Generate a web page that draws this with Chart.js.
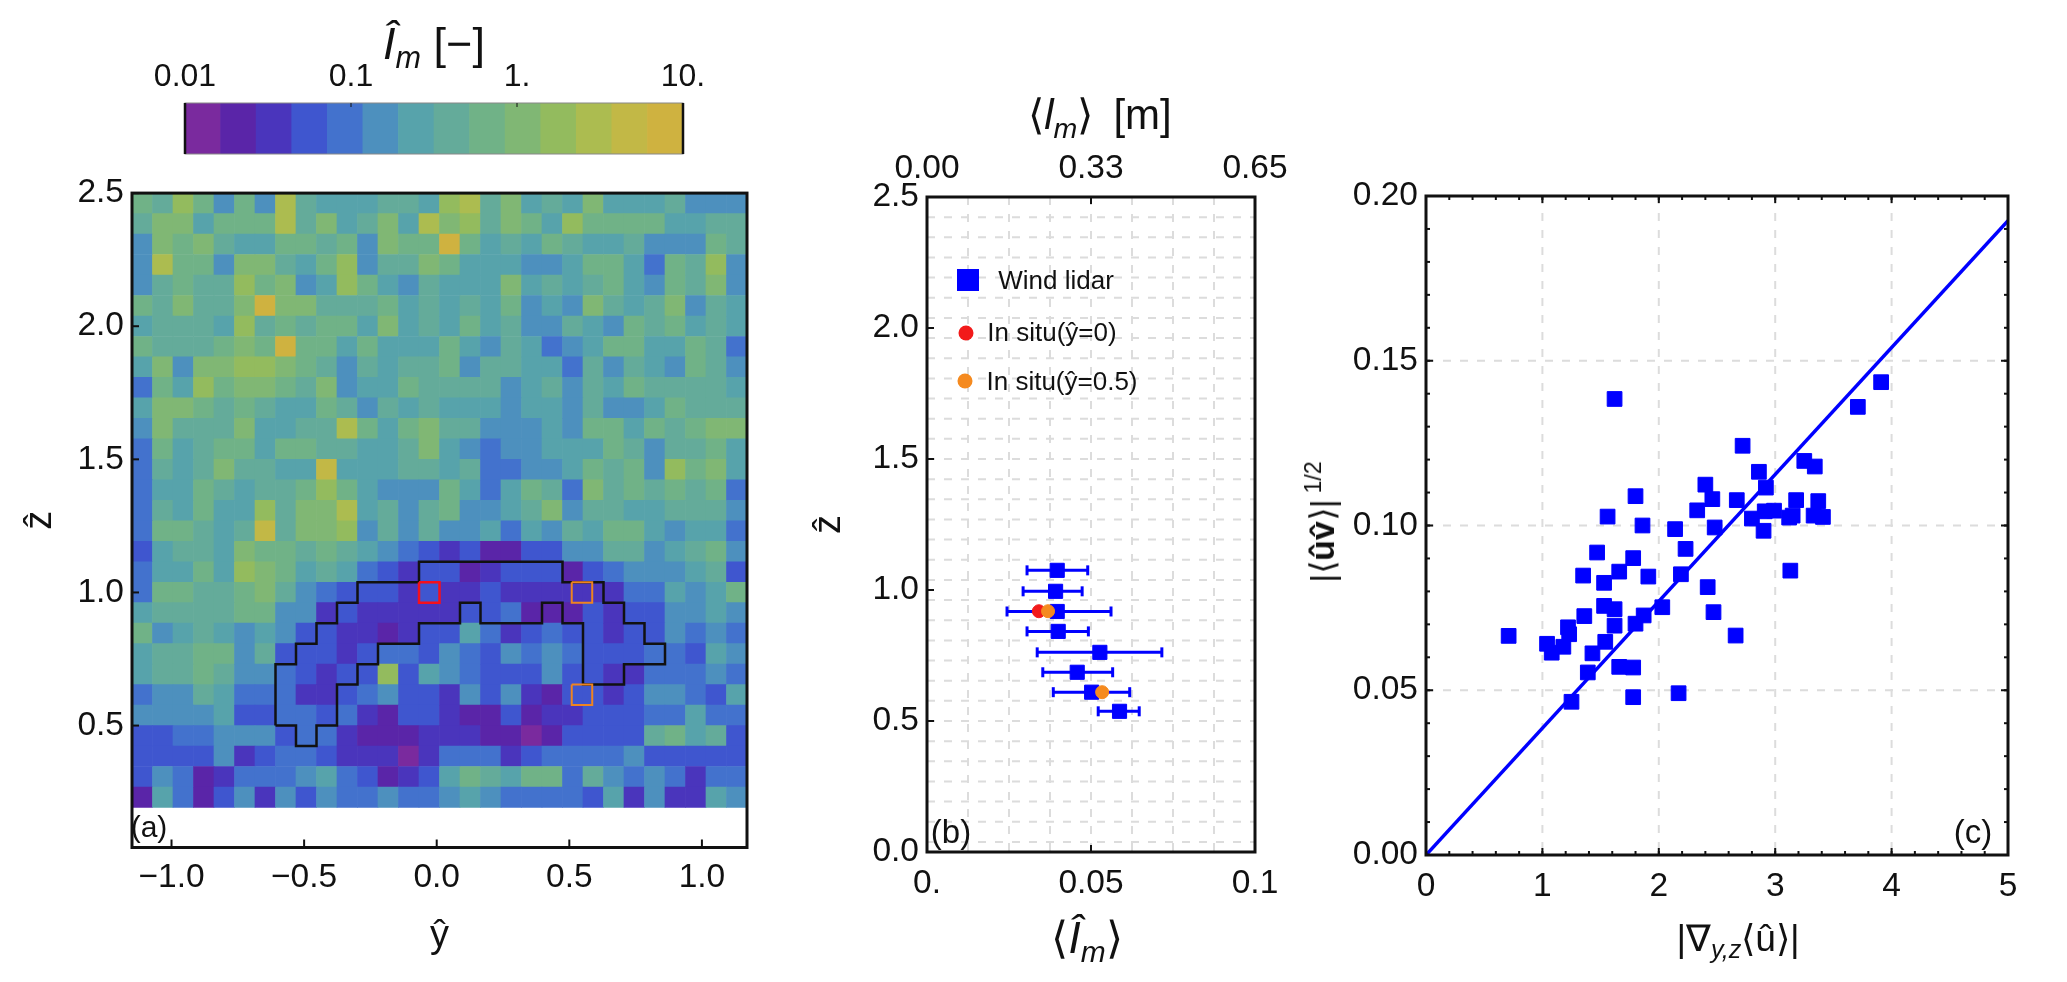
<!DOCTYPE html>
<html>
<head>
<meta charset="utf-8">
<title>Mixing length panels</title>
<script src="https://cdn.jsdelivr.net/npm/chart.js@4"></script>
<style>
html, body { margin: 0; padding: 0; background: #fff; }
body { position: relative; width: 2067px; height: 982px; overflow: hidden; font-family: "Liberation Sans", Arial, sans-serif; color: #111; }
canvas { position: absolute; }
.lbl { position: absolute; white-space: nowrap; transform: translate(-50%, -50%); line-height: 1; }
.lbl sub { font-size: 0.68em; vertical-align: -0.3em; line-height: 0; }
.lbl sup { font-size: 0.68em; vertical-align: 0.55em; line-height: 0; margin-left: 0.25em; }
.mark { position: absolute; transform: translate(-50%, -50%); }
</style>
</head>
<body>
<canvas id="bar"></canvas>
<canvas id="panelA"></canvas>
<canvas id="panelB"></canvas>
<canvas id="panelC"></canvas>

<div class="lbl" style="left:434px;top:43px;font-size:45px"><i>Î<sub>m</sub></i> [−]</div>
<div class="lbl" style="left:149px;top:827px;font-size:30px">(a)</div>
<div class="lbl" style="left:1100px;top:115px;font-size:42px;word-spacing:0.2em">⟨<i>l<sub>m</sub></i>⟩ [m]</div>
<div class="lbl" style="left:1087px;top:938px;font-size:44px">⟨<i>Î<sub>m</sub></i>⟩</div>
<div class="lbl" style="left:951px;top:831px;font-size:33px">(b)</div>
<div class="lbl" style="left:1738px;top:938px;font-size:37px">|∇<i><sub>y,z</sub></i>⟨û⟩|</div>
<div class="lbl" style="left:1322px;top:522px;font-size:34px;transform:translate(-50%,-50%) rotate(-90deg)">|⟨<b>ûv̂</b>⟩|<sup>1/2</sup></div>
<div class="lbl" style="left:1973px;top:831px;font-size:33px">(c)</div>

<div class="mark" style="left:968px;top:280px;width:22px;height:22px;background:#0000ff"></div>
<div class="lbl" style="left:1056px;top:280px;font-size:26px">Wind lidar</div>
<div class="mark" style="left:966px;top:333px;width:15px;height:15px;border-radius:50%;background:#f21a1a"></div>
<div class="lbl" style="left:1052px;top:332px;font-size:26px">In situ(ŷ=0)</div>
<div class="mark" style="left:965px;top:381px;width:15px;height:15px;border-radius:50%;background:#f58a1f"></div>
<div class="lbl" style="left:1062px;top:381px;font-size:26px">In situ(ŷ=0.5)</div>

<script>
// colour bands of the bar, purple to gold
const bandColors = ["#7a2a9e", "#5a25a8", "#4a35bc", "#3f56cf", "#4372cd", "#4d90be", "#57a3ab",
  "#64ab9a", "#70b287", "#80b774", "#93bb5e", "#acbc50", "#c2b846", "#cfb240"];
const barTicks = [0.01, 0.1, 1, 10];
const barLabels = ["0.01", "0.1", "1.", "10."];

// panel a: colour band of each cell, top row first, left to right
const cellBands = [
  [8,7,10,8,5,8,5,11,7,6,6,6,7,7,6,10,11,7,9,6,7,6,9,6,6,6,7,5,5,5],
  [7,9,9,6,8,8,8,11,7,9,6,7,9,6,11,9,10,7,9,8,6,10,8,8,8,8,6,6,7,7],
  [5,9,8,9,7,6,6,8,8,7,8,5,9,8,8,13,8,6,7,6,8,7,6,6,7,5,5,5,8,7],
  [5,11,8,8,5,9,9,7,6,8,10,5,7,7,9,8,6,6,6,5,5,6,8,8,6,4,8,7,10,5],
  [5,7,8,7,7,10,8,9,5,6,10,8,6,5,7,6,6,6,9,6,7,6,7,8,6,5,8,7,9,5],
  [8,7,9,7,7,9,13,9,9,7,7,7,8,6,7,6,7,6,8,5,6,5,9,7,6,7,9,5,7,6],
  [6,7,7,7,6,10,7,8,7,8,8,6,9,6,7,6,8,6,7,5,5,7,6,5,8,7,8,6,7,6],
  [8,7,7,7,8,9,8,13,8,8,6,8,6,6,6,8,6,5,7,6,4,5,6,8,8,6,6,8,7,4],
  [6,9,5,9,9,10,10,9,8,7,5,7,6,7,7,8,5,7,7,6,6,4,7,5,7,6,5,8,7,5],
  [4,8,6,10,8,9,9,8,7,9,5,6,6,8,7,7,7,7,5,6,7,5,7,6,8,7,7,7,7,6],
  [6,9,9,8,7,8,7,6,6,8,7,5,7,6,7,6,6,6,5,6,6,5,7,5,5,6,8,7,7,7],
  [5,9,7,7,7,9,6,6,7,7,11,8,6,8,9,7,7,5,5,5,6,5,8,8,6,8,7,8,9,9],
  [4,8,6,7,8,8,6,8,8,7,7,6,6,7,9,6,5,4,5,5,6,6,6,8,7,5,7,7,8,6],
  [4,7,6,7,9,7,7,6,6,12,6,6,6,7,7,6,7,4,4,5,5,6,8,7,8,5,10,8,9,6],
  [4,6,6,8,7,6,7,7,8,10,8,6,5,5,5,8,6,4,6,8,7,4,9,7,8,7,8,7,8,4],
  [4,7,6,8,6,6,10,7,9,9,11,6,7,5,7,8,5,5,6,7,9,5,7,7,6,6,7,7,7,5],
  [4,8,8,7,6,7,12,7,9,9,10,5,7,5,7,5,5,6,4,6,5,7,6,8,8,6,5,6,6,4],
  [3,6,7,7,6,9,8,8,7,8,7,6,5,4,3,2,3,1,1,3,3,5,5,7,7,5,6,7,8,5],
  [4,6,6,8,6,10,9,8,6,7,6,4,3,2,3,3,1,2,3,3,3,1,3,4,5,5,5,6,7,3],
  [4,8,8,7,7,8,9,7,5,4,3,3,3,2,3,2,2,3,2,2,2,2,2,2,4,4,6,5,6,8],
  [6,7,7,7,7,8,8,5,5,2,3,2,2,2,2,2,3,3,4,1,1,1,3,2,3,3,5,5,6,5],
  [8,5,6,7,6,5,6,5,3,3,2,2,1,2,3,3,6,4,2,3,4,3,3,2,3,3,5,4,5,4],
  [6,7,7,8,8,5,7,3,3,3,2,3,4,4,3,5,4,3,5,4,5,4,3,3,3,4,4,3,6,5],
  [6,7,7,8,7,5,5,4,3,2,3,3,10,3,6,5,4,3,3,3,5,3,3,2,2,4,4,4,5,4],
  [4,5,5,7,6,4,4,4,2,2,3,4,5,3,3,2,5,3,5,2,1,3,3,2,3,5,5,4,3,6],
  [5,5,5,5,6,3,3,4,4,3,4,2,1,3,3,2,1,1,3,1,2,2,3,3,3,4,4,6,4,4],
  [3,3,4,4,5,5,5,3,4,4,2,1,1,1,2,2,2,1,1,0,1,3,3,3,3,7,8,6,7,3],
  [3,3,3,3,5,2,3,4,4,3,2,2,2,0,2,4,4,4,2,3,4,4,4,4,5,3,3,3,3,3],
  [3,5,4,1,2,4,4,4,5,6,4,3,1,2,3,6,8,7,6,8,8,4,7,5,4,5,4,2,4,4],
  [1,6,4,1,3,5,2,5,3,5,4,4,5,4,4,5,6,5,4,4,4,4,3,6,2,5,2,2,6,5]
];
// outline of the cell group, as column and row edge numbers
const outlineCols = [7,7,8,8,9,9,10,10,11,11,14,14,21,21,23,23,24,24,25,25,26,26,24,24,22,22,21,21,20,20,17,17,16,16,14,14,12,12,11,11,10,10,9,9,8,8,7];
const outlineRows = [26,23,23,22,22,21,21,20,20,19,19,18,18,19,19,20,20,21,21,22,22,23,23,24,24,21,21,20,20,21,21,20,20,21,21,22,22,23,23,24,24,26,26,27,27,26,26];
const redBoxCols = [14,15,15,14,14];
const redBoxRows = [19,19,20,20,19];
const orangeBoxCols = [[21.45,22.45,22.45,21.45,21.45],[21.45,22.45,22.45,21.45,21.45]];
const orangeBoxRows = [[19,19,20,20,19],[24,24,25,25,24]];

const axisTicksY = [-1, -0.5, 0, 0.5, 1];
const axisTicksZ = [0.5, 1, 1.5, 2, 2.5];

// panel b: wind lidar profile
const lidarZ = [1.075, 0.995, 0.918, 0.842, 0.762, 0.686, 0.61, 0.537];
const lidarL = [0.0397, 0.0392, 0.0397, 0.04, 0.0527, 0.0458, 0.0502, 0.0587];
const lidarLo = [0.0305, 0.0293, 0.0244, 0.0305, 0.0336, 0.0353, 0.0385, 0.0522];
const lidarHi = [0.049, 0.0473, 0.0561, 0.0492, 0.0716, 0.0566, 0.0618, 0.0647];
const situ0L = [0.0341];
const situ0Z = [0.919];
const situ5L = [0.0369, 0.0534];
const situ5Z = [0.919, 0.61];
const lTicks = [0, 0.05, 0.1];
const lLabels = ["0.", "0.05", "0.1"];
const topTicks = [0, 0.325, 0.65];
const topLabels = ["0.00", "0.33", "0.65"];

// panel c: scatter and fitted line
const gradU = [0.71,1.04,1.08,1.18,1.22,1.23,1.25,1.39,1.43,1.36,1.54,1.53,1.62,1.62,1.62,1.35,1.53,1.47,1.56,1.66,
  1.78,1.91,1.80,1.86,1.80,1.87,1.66,1.78,1.78,2.03,2.17,2.19,2.23,2.14,2.33,2.40,2.46,2.48,2.42,2.47,
  2.66,2.67,2.72,2.80,2.86,2.92,2.90,2.91,2.99,3.12,3.15,3.18,3.13,3.25,3.34,3.37,3.33,3.41,3.71,3.91];
const stressRoot = [.0665,.0641,.0614,.0632,.0691,.0670,.0465,.0554,.0612,.0725,.0647,.0756,.0746,.0696,.1384,.0848,.0826,.0918,.1027,.0860,
  .0901,.0845,.1089,.1000,.0702,.0727,.0571,.0569,.0479,.0752,.0491,.0852,.0929,.0989,.1046,.1124,.1080,.0994,.0813,.0737,
  .0666,.1077,.1242,.1021,.1163,.1115,.0984,.1043,.1045,.1024,.1030,.1077,.0863,.1196,.1179,.1074,.1030,.1026,.1360,.1435];
const fitX = [0, 5];
const fitY = [0, 0.1925];
const uTicks = [0, 1, 2, 3, 4, 5];
const stressTicks = [0, 0.05, 0.1, 0.15, 0.2];
const uMinor = [];
for (let i = 0; i <= 25; i++) uMinor.push(i * 0.2);
const stressMinor = [];
for (let i = 0; i <= 20; i++) stressMinor.push(i * 0.01);

Chart.defaults.font.family = '"Liberation Sans", Arial, sans-serif';
Chart.defaults.color = "#111";
Chart.defaults.animation = false;
Chart.defaults.responsive = false;
Chart.defaults.devicePixelRatio = 1;
Chart.defaults.plugins.legend.display = false;
Chart.defaults.plugins.tooltip.enabled = false;

// place a canvas on the page
function place(id, box) {
  const c = document.getElementById(id);
  c.width = box.r - box.l;
  c.height = box.b - box.t;
  c.style.left = box.l + "px";
  c.style.top = box.t + "px";
  return c;
}
function fixHeight(h) { return (s) => { s.height = h; }; }
function fixWidth(w) { return (s) => { s.width = w; }; }
function setTicks(values) { return (s) => { s.ticks = values.map((v) => ({ value: v })); }; }

// draws dashed grid under the marks, and frame with inward ticks over them
function framePlugin(d) {
  return {
    id: "frame",
    beforeDatasetsDraw(chart) {
      if (!d.grid) return;
      const { ctx, chartArea: a, scales } = chart;
      ctx.save();
      ctx.strokeStyle = "#dcdcdc";
      ctx.lineWidth = 2;
      ctx.setLineDash([8, 9]);
      d.grid.x.forEach((v) => {
        const p = scales.x.getPixelForValue(v);
        ctx.beginPath(); ctx.moveTo(p, a.top); ctx.lineTo(p, a.bottom); ctx.stroke();
      });
      d.grid.y.forEach((v) => {
        const p = scales.y.getPixelForValue(v);
        ctx.beginPath(); ctx.moveTo(a.left, p); ctx.lineTo(a.right, p); ctx.stroke();
      });
      ctx.restore();
    },
    afterDatasetsDraw(chart) {
      const { ctx, chartArea: a, scales } = chart;
      ctx.save();
      ctx.strokeStyle = d.color || "#111";
      ctx.lineWidth = d.width || 3;
      ctx.strokeRect(a.left, a.top, a.right - a.left, a.bottom - a.top);
      ctx.strokeStyle = "#111";
      if (d.ends) {
        ctx.lineWidth = d.ends;
        ctx.beginPath();
        ctx.moveTo(a.left, a.top); ctx.lineTo(a.left, a.bottom);
        ctx.moveTo(a.right, a.top); ctx.lineTo(a.right, a.bottom);
        ctx.stroke();
      }
      d.ticks.forEach((t) => {
        ctx.lineWidth = t.width || 2;
        t.values.forEach((v) => {
          const p = scales[t.scale].getPixelForValue(v);
          ctx.beginPath();
          if (t.side === "left") { ctx.moveTo(a.left, p); ctx.lineTo(a.left + t.len, p); }
          if (t.side === "right") { ctx.moveTo(a.right, p); ctx.lineTo(a.right - t.len, p); }
          if (t.side === "top") { ctx.moveTo(p, a.top); ctx.lineTo(p, a.top + t.len); }
          if (t.side === "bottom") { ctx.moveTo(p, a.bottom); ctx.lineTo(p, a.bottom - t.len); }
          ctx.stroke();
        });
      });
      ctx.restore();
    }
  };
}

const tickFont = { size: 33.5 };
function hiddenGrid() { return { display: false, drawTicks: false, drawBorder: false }; }

// colour bar
place("bar", { l: 120, t: 50, r: 750, b: 160 });
const barCenters = bandColors.map((c, i) => Math.pow(10, -2 + (i + 0.5) * 3 / 14));
new Chart(document.getElementById("bar"), {
  type: "bar",
  data: {
    datasets: [{
      data: barCenters.map((x) => ({ x: x, y: [0, 1] })),
      backgroundColor: bandColors,
      borderWidth: 0,
      barPercentage: 1,
      categoryPercentage: 1
    }]
  },
  options: {
    layout: { padding: { left: 65, right: 67, top: 0, bottom: 6 } },
    scales: {
      x: {
        type: "logarithmic", position: "top", min: 0.01, max: 10, offset: false,
        grid: hiddenGrid(), border: { display: false }, afterBuildTicks: setTicks(barTicks), afterFit: fixHeight(53),
        ticks: { font: { size: 32 }, padding: 7, maxRotation: 0, autoSkip: false, callback: (v, i) => barLabels[i] }
      },
      y: { min: 0, max: 1, display: false }
    }
  },
  plugins: [framePlugin({ width: 1, color: "#888", ends: 2.5, ticks: [
    { side: "top", scale: "x", values: [0.1, 1], len: 4, width: 1 }
  ] })]
});

// panel a
const cellW = 2.319 / 30;
const cellH = 1 / 13;
const leftEdge = -1.149;
const topEdge = 2.5;
function colX(c) { return leftEdge + c * cellW; }
function rowZ(r) { return topEdge - r * cellH; }
function boxLine(cols, rows, color, width, order) {
  return {
    type: "line",
    data: cols.map((c, i) => ({ x: colX(c), y: rowZ(rows[i]) })),
    borderColor: color, borderWidth: width, pointRadius: 0, tension: 0, order: order, fill: false
  };
}
const cells = [];
const cellColors = [];
cellBands.forEach((row, r) => row.forEach((band, c) => {
  cells.push({ x: colX(c + 0.5), y: [rowZ(r + 1), rowZ(r)] });
  cellColors.push(bandColors[band]);
}));
place("panelA", { l: 0, t: 165, r: 770, b: 970 });
new Chart(document.getElementById("panelA"), {
  type: "bar",
  data: {
    datasets: [
      { data: cells, backgroundColor: cellColors, borderWidth: 0, barPercentage: 1, categoryPercentage: 1, order: 5 },
      boxLine(outlineCols, outlineRows, "#111", 2.5, 2),
      boxLine(redBoxCols, redBoxRows, "#f5101c", 2.5, 1),
      boxLine(orangeBoxCols[0], orangeBoxRows[0], "#ef8420", 2, 1),
      boxLine(orangeBoxCols[1], orangeBoxRows[1], "#ef8420", 2, 1)
    ]
  },
  options: {
    layout: { padding: { left: 0, right: 23, top: 27, bottom: 0 } },
    scales: {
      x: {
        type: "linear", min: leftEdge, max: leftEdge + 2.319, offset: false,
        grid: hiddenGrid(), border: { display: false }, afterBuildTicks: setTicks(axisTicksY), afterFit: fixHeight(122.5),
        ticks: { font: tickFont, padding: 10, maxRotation: 0, autoSkip: false, callback: (v) => v.toFixed(1).replace("-", "−") },
        title: { display: true, text: "ŷ", font: { size: 38 }, padding: { top: 0, bottom: 11 } }
      },
      y: {
        min: 0.042, max: 2.5,
        grid: hiddenGrid(), border: { display: false }, afterBuildTicks: setTicks(axisTicksZ), afterFit: fixWidth(132),
        ticks: { font: tickFont, padding: 8, autoSkip: false, callback: (v) => v.toFixed(1) },
        title: { display: true, text: "ẑ", font: { size: 38 }, padding: { top: 18, bottom: 0 } }
      }
    }
  },
  plugins: [framePlugin({ width: 3, ticks: [
    { side: "left", scale: "y", values: axisTicksZ, len: 7 },
    { side: "bottom", scale: "x", values: axisTicksY, len: 8 }
  ] })]
});

// panel b
const gridL = [];
for (let i = 1; i < 8; i++) gridL.push(i * 0.0125);
const gridZ = [];
for (let i = 1; i < 33; i++) gridZ.push(rowZ(i));
const whiskers = [];
lidarZ.forEach((z, i) => {
  whiskers.push({ x: lidarLo[i], y: z }, { x: lidarHi[i], y: z }, { x: null, y: null });
});
place("panelB", { l: 800, t: 135, r: 1300, b: 970 });
new Chart(document.getElementById("panelB"), {
  type: "scatter",
  data: {
    datasets: [
      { data: whiskers, showLine: true, spanGaps: false, borderColor: "#0000ff", borderWidth: 3,
        pointStyle: "line", pointRotation: 90, pointRadius: 5, pointBorderWidth: 3, pointBorderColor: "#0000ff", order: 4 },
      { data: lidarL.map((x, i) => ({ x: x, y: lidarZ[i] })), pointStyle: "rect", pointRadius: 10,
        backgroundColor: "#0000ff", borderColor: "#0000ff", order: 3 },
      { data: situ0L.map((x, i) => ({ x: x, y: situ0Z[i] })), pointRadius: 6.5,
        backgroundColor: "#f21a1a", borderColor: "#f21a1a", order: 2 },
      { data: situ5L.map((x, i) => ({ x: x, y: situ5Z[i] })), pointRadius: 6.5,
        backgroundColor: "#f58a1f", borderColor: "#f58a1f", order: 1 }
    ]
  },
  options: {
    layout: { padding: { left: 0, right: 45, top: 0, bottom: 0 } },
    scales: {
      x: {
        type: "linear", min: 0, max: 0.1, position: "bottom",
        grid: hiddenGrid(), border: { display: false }, afterBuildTicks: setTicks(lTicks), afterFit: fixHeight(118),
        ticks: { font: tickFont, padding: 12, maxRotation: 0, autoSkip: false, callback: (v, i) => lLabels[i] }
      },
      x2: {
        type: "linear", min: 0, max: 0.65, position: "top",
        grid: hiddenGrid(), border: { display: false }, afterBuildTicks: setTicks(topTicks), afterFit: fixHeight(62),
        ticks: { font: tickFont, padding: 8, maxRotation: 0, autoSkip: false, callback: (v, i) => topLabels[i] }
      },
      y: {
        min: 0, max: 2.5,
        grid: hiddenGrid(), border: { display: false }, afterBuildTicks: setTicks([0, 0.5, 1, 1.5, 2, 2.5]), afterFit: fixWidth(127),
        ticks: { font: tickFont, padding: 8, autoSkip: false, callback: (v) => v.toFixed(1) },
        title: { display: true, text: "ẑ", font: { size: 38 }, padding: { top: 7, bottom: 0 } }
      }
    }
  },
  plugins: [framePlugin({ width: 3, grid: { x: gridL, y: gridZ }, ticks: [
    { side: "left", scale: "y", values: [0.5, 1, 1.5, 2], len: 7 },
    { side: "bottom", scale: "x", values: lTicks, len: 7 },
    { side: "top", scale: "x2", values: [0.325], len: 7 }
  ] })]
});

// panel c
place("panelC", { l: 1340, t: 165, r: 2067, b: 970 });
new Chart(document.getElementById("panelC"), {
  type: "scatter",
  data: {
    datasets: [
      { data: gradU.map((x, i) => ({ x: x, y: stressRoot[i] })), pointStyle: "rect", pointRadius: 10.4,
        backgroundColor: "#0000ff", borderColor: "#0000ff", order: 2 },
      { data: fitX.map((x, i) => ({ x: x, y: fitY[i] })), showLine: true, pointRadius: 0, borderColor: "#0000ff", borderWidth: 3.5, order: 1 }
    ]
  },
  options: {
    layout: { padding: { left: 0, right: 59, top: 31, bottom: 0 } },
    scales: {
      x: {
        type: "linear", min: 0, max: 5,
        grid: hiddenGrid(), border: { display: false }, afterBuildTicks: setTicks(uTicks), afterFit: fixHeight(115),
        ticks: { font: tickFont, padding: 12, maxRotation: 0, autoSkip: false, callback: (v) => String(v) }
      },
      y: {
        min: 0, max: 0.2,
        grid: hiddenGrid(), border: { display: false }, afterBuildTicks: setTicks(stressTicks), afterFit: fixWidth(86),
        ticks: { font: tickFont, padding: 8, autoSkip: false, callback: (v) => v.toFixed(2) }
      }
    }
  },
  plugins: [framePlugin({ width: 3, grid: { x: [1, 2, 3, 4], y: [0.05, 0.1, 0.15] }, ticks: [
    { side: "left", scale: "y", values: stressMinor, len: 4 },
    { side: "right", scale: "y", values: stressMinor, len: 4 },
    { side: "left", scale: "y", values: stressTicks, len: 7 },
    { side: "right", scale: "y", values: stressTicks, len: 7 },
    { side: "bottom", scale: "x", values: uMinor, len: 4 },
    { side: "top", scale: "x", values: uMinor, len: 4 },
    { side: "bottom", scale: "x", values: uTicks, len: 7 },
    { side: "top", scale: "x", values: uTicks, len: 7 }
  ] })]
});
</script>
</body>
</html>
